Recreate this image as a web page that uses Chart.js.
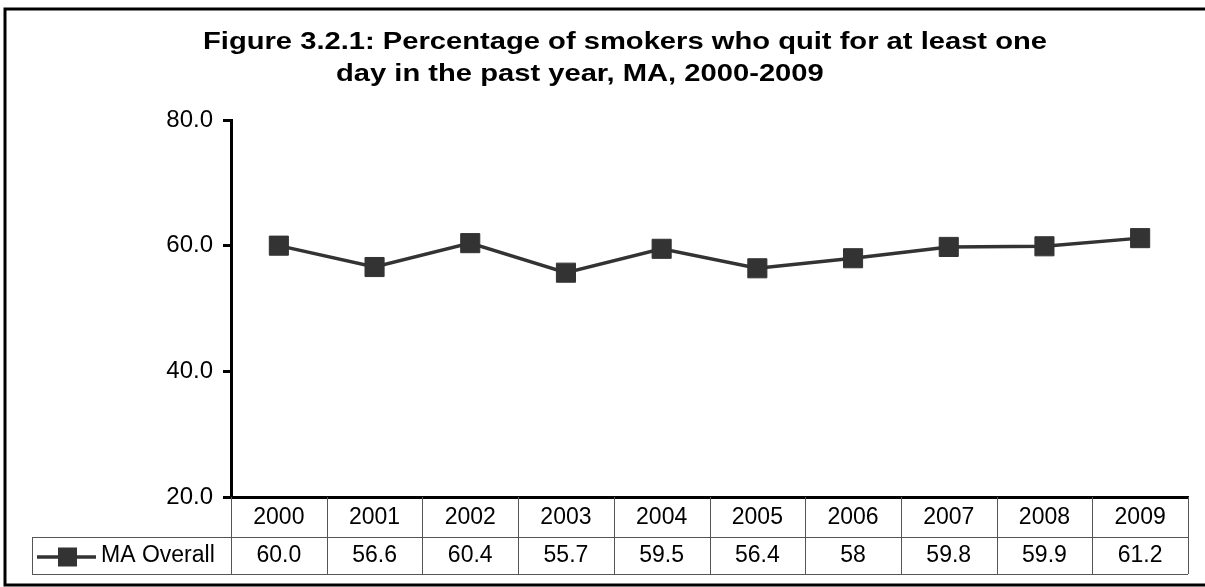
<!DOCTYPE html>
<html>
<head>
<meta charset="utf-8">
<title>Smokers who quit for at least one day</title>
<script src="https://cdn.jsdelivr.net/npm/chart.js@4"></script>
<style>
  html, body { margin: 0; padding: 0; background: #fff; }
</style>
</head>
<body>
<canvas id="chart" width="1205" height="587"></canvas>
<script>
const titleLines = [
  "Figure 3.2.1: Percentage of smokers who quit for at least one",
  "day in the past year, MA, 2000-2009",
];
const years = ["2000", "2001", "2002", "2003", "2004", "2005", "2006", "2007", "2008", "2009"];
const seriesName = "MA Overall";
const valueLabels = ["60.0", "56.6", "60.4", "55.7", "59.5", "56.4", "58", "59.8", "59.9", "61.2"];
const maOverall = valueLabels.map(Number);
const yTicks = [20, 40, 60, 80];

const FONT = "'Liberation Sans', Arial, sans-serif";
const LINE_COLOR = "#333333";

// title, data table under the x axis, and the outer frame
const tablePlugin = {
  id: "tablePlugin",
  afterDraw(chart) {
    const { ctx, chartArea } = chart;
    const x = chart.scales.x;
    const n = chart.data.labels.length;
    const step = (chartArea.right - chartArea.left) / n;
    const top = chartArea.bottom;
    const mid = top + 40;
    const bot = top + 77;
    const keyLeft = 32;

    ctx.save();
    // title, drawn a little wide like the original
    ctx.fillStyle = "#000";
    ctx.textAlign = "left";
    ctx.textBaseline = "alphabetic";
    ctx.font = `bold 24px ${FONT}`;
    const sx = 844 / ctx.measureText(titleLines[0]).width;
    ctx.save();
    ctx.scale(sx, 1);
    ctx.fillText(titleLines[0], 203 / sx, 49);
    ctx.fillText(titleLines[1], 336 / sx, 81);
    ctx.restore();

    // grid of the table
    ctx.strokeStyle = "#555";
    ctx.lineWidth = 1;
    ctx.beginPath();
    for (let i = 0; i <= n; i++) {
      const px = Math.round(chartArea.left + i * step) + 0.5;
      ctx.moveTo(px, top);
      ctx.lineTo(px, bot);
    }
    ctx.moveTo(keyLeft + 0.5, mid);
    ctx.lineTo(keyLeft + 0.5, bot);
    ctx.moveTo(keyLeft, mid + 0.5);
    ctx.lineTo(chartArea.right, mid + 0.5);
    ctx.moveTo(keyLeft, bot + 0.5);
    ctx.lineTo(chartArea.right, bot + 0.5);
    ctx.stroke();

    // year row and value row
    ctx.textAlign = "center";
    ctx.textBaseline = "middle";
    ctx.font = `23px ${FONT}`;
    ctx.fillStyle = "#000";
    chart.data.labels.forEach((lab, i) => {
      const cx = x.getPixelForValue(i);
      ctx.fillText(lab, cx, top + 21);
      ctx.fillText(valueLabels[i], cx, mid + 19);
    });

    // legend key in the value row
    const ky = mid + 20;
    ctx.strokeStyle = LINE_COLOR;
    ctx.lineWidth = 3.5;
    ctx.beginPath();
    ctx.moveTo(37, ky);
    ctx.lineTo(96, ky);
    ctx.stroke();
    ctx.fillStyle = LINE_COLOR;
    ctx.fillRect(58, ky - 9.5, 19, 19);
    ctx.fillStyle = "#000";
    ctx.textAlign = "left";
    ctx.fillText(seriesName, 101, mid + 19);

    // outer frame
    ctx.strokeStyle = "#000";
    ctx.lineWidth = 3;
    ctx.strokeRect(5, 9, 1210, 576);
    ctx.restore();
  },
};

new Chart(document.getElementById("chart"), {
  type: "line",
  data: {
    labels: years,
    datasets: [{
      label: seriesName,
      data: maOverall,
      borderColor: LINE_COLOR,
      borderWidth: 3.5,
      backgroundColor: LINE_COLOR,
      pointStyle: "rect",
      pointRadius: 13.5,
      pointHoverRadius: 13.5,
      pointBorderWidth: 1,
      pointBackgroundColor: LINE_COLOR,
      pointBorderColor: LINE_COLOR,
      tension: 0,
    }],
  },
  options: {
    responsive: false,
    animation: false,
    devicePixelRatio: 1,
    layout: { padding: { top: 120, right: 17, bottom: 0, left: 0 } },
    plugins: {
      legend: { display: false },
      title: { display: false },
      tooltip: { enabled: false },
    },
    scales: {
      x: {
        type: "category",
        offset: true,
        grid: { display: false },
        ticks: { display: false },
        border: { display: true, color: "#000", width: 3 },
        afterFit: (s) => { s.height = 90; },
      },
      y: {
        min: 20,
        max: 80,
        afterBuildTicks: (s) => { s.ticks = yTicks.map((v) => ({ value: v })); },
        grid: { drawOnChartArea: false, drawTicks: true, tickLength: 8, tickWidth: 3, tickColor: "#000" },
        border: { display: true, color: "#000", width: 3 },
        ticks: {
          color: "#000",
          padding: 10,
          font: { family: FONT, size: 24 },
          callback: (v) => Number(v).toFixed(1),
        },
        afterFit: (s) => { s.width = 231; },
      },
    },
  },
  plugins: [tablePlugin],
});
</script>
</body>
</html>
